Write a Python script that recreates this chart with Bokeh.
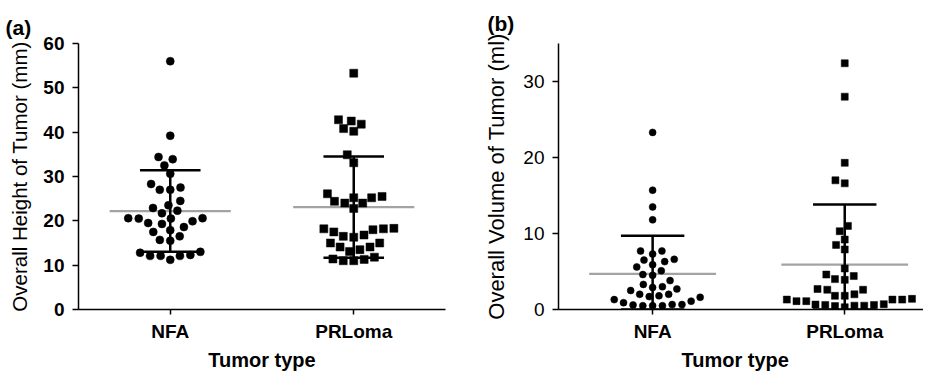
import math
from bokeh.plotting import figure
from bokeh.layouts import row
from bokeh.models import FixedTicker, Range1d, LinearAxis
from bokeh.embed import file_html
from bokeh.resources import INLINE

# ---------------- data ----------------
categories = ["NFA", "PRLoma"]
x_title = "Tumor type"

height_nfa = [56.0, 39.2, 34.4, 33.9, 32.5, 30.6, 28.3, 27.5, 27.0, 27.0, 24.5, 23.5,
              22.9, 22.3, 21.7, 20.5, 20.5, 20.6, 20.6, 19.5, 19.9, 18.6, 19.3, 17.5,
              17.9, 16.5, 15.7, 15.5, 13.0, 12.3, 12.1, 11.2, 12.1, 12.1, 12.8]
height_prl = [53.3, 42.8, 41.8, 40.2, 40.8, 42.5, 34.9, 33.1, 25.2, 24.4, 25.5, 24.0,
              26.1, 24.0, 25.2, 22.8, 18.2, 18.0, 17.5, 18.3, 18.2, 16.8, 16.3, 16.5,
              15.0, 15.0, 14.1, 14.1, 13.5, 13.1, 11.8, 11.3, 11.0, 11.0, 11.4]
height_mean = [22.2, 23.1]
height_sd = [9.2, 11.4]

volume_nfa = [23.3, 15.7, 13.5, 11.8, 7.7, 7.7, 7.3, 6.5, 6.3, 6.6, 5.9, 5.6, 5.1,
              4.6, 4.5, 3.8, 3.0, 2.7, 2.9, 3.3, 2.0, 2.0, 2.5, 1.7, 1.3, 1.6, 1.8,
              0.9, 0.65, 0.5, 0.5, 0.5, 0.6, 0.65, 1.1]
volume_prl = [32.4, 28.0, 19.3, 17.0, 16.6, 11.0, 10.3, 9.2, 8.5, 7.9, 5.4, 4.6,
              4.4, 4.0, 3.9, 2.7, 2.6, 2.6, 2.0, 1.8, 1.8, 1.4, 1.3, 1.3, 1.3, 1.1,
              1.1, 0.7, 0.65, 0.6, 0.6, 0.5, 0.5, 0.45, 0.3]
volume_mean = [4.7, 5.9]
volume_sd = [5.0, 7.9]

FONT = "Liberation Sans"


def swarm(vals, d_px, ppu_x, ppu_y):
    order = sorted(range(len(vals)), key=lambda i: vals[i])
    placed = []
    offs = [0.0] * len(vals)
    for i in order:
        y = vals[i] * ppu_y
        cands = [0.0]
        for (px, py) in placed:
            dy = abs(py - y)
            if dy < d_px:
                dx = math.sqrt(d_px ** 2 - dy ** 2)
                cands += [px + dx, px - dx]
        cands.sort(key=lambda c: (round(abs(c), 6), c))
        chosen = cands[-1]
        for c in cands:
            if all((c - px) ** 2 + (y - py) ** 2 >= d_px ** 2 - 1e-6 for px, py in placed):
                chosen = c
                break
        placed.append((chosen, y))
        offs[i] = chosen / ppu_x
    return offs


def make_panel(width, x_end, y_end, yticks, series, means, sds, msize, dcoll,
               tick_bold, tag, tag_offset, ylabel, ylabel_size, ylabel_standoff, title_x):
    fw, fh, top = series["fw"], series["fh"], series["top"]
    p = figure(width=width, height=373, output_backend="svg", toolbar_location=None,
               x_range=Range1d(x_end[0], x_end[1]), y_range=Range1d(0, y_end),
               min_border_left=78, min_border_right=width - 78 - fw,
               min_border_top=top, min_border_bottom=373 - top - fh)
    p.outline_line_color = None
    p.grid.visible = False
    p.background_fill_color = "white"
    p.border_fill_color = "white"

    p.title.text = tag
    p.title.align = "left"
    p.title.offset = tag_offset
    p.title.text_font = FONT
    p.title.text_font_style = "bold"
    p.title.text_font_size = "21px"
    p.title.text_color = "black"
    p.title.standoff = series["tstand"]

    ppu_x = fw / (x_end[1] - x_end[0])
    ppu_y = fh / y_end

    # mean lines (gray)
    p.segment(x0=[i - 0.33 for i in range(2)], x1=[i + 0.33 for i in range(2)],
              y0=means, y1=means, line_color="#a3a3a3", line_width=2.2)
    # SD whiskers
    lo = [max(m - s, 0) for m, s in zip(means, sds)]
    hi = [m + s for m, s in zip(means, sds)]
    p.segment(x0=[0, 1], x1=[0, 1], y0=lo, y1=hi, line_color="black", line_width=2.5)
    p.segment(x0=[i - 0.165 for i in range(2)], x1=[i + 0.165 for i in range(2)],
              y0=hi, y1=hi, line_color="black", line_width=2.5)
    p.segment(x0=[i - 0.165 for i in range(2)], x1=[i + 0.165 for i in range(2)],
              y0=lo, y1=lo, line_color="black", line_width=2.5)

    for k, (vals, marker) in enumerate(series["data"]):
        offs = swarm(vals, dcoll, ppu_x, ppu_y)
        p.scatter(x=[k + o for o in offs], y=vals, marker=marker, size=msize,
                  fill_color="black", line_color="black", line_width=0.5)

    # x axis with category names
    p.xaxis.ticker = FixedTicker(ticks=[0, 1])
    p.xaxis.major_label_overrides = {0: categories[0], 1: categories[1]}
    p.xaxis.minor_tick_line_color = None
    p.xaxis.major_tick_out = 5
    p.xaxis.major_tick_in = 0
    p.xaxis.axis_line_width = 1.5
    p.xaxis.major_tick_line_width = 1.5
    p.xaxis.major_label_text_font = FONT
    p.xaxis.major_label_text_font_style = "bold"
    p.xaxis.major_label_text_font_size = "19px"
    p.xaxis.major_label_text_color = "black"
    p.xaxis.major_label_standoff = 6

    # second (invisible) axis carrying the x title
    t_axis = LinearAxis(ticker=FixedTicker(ticks=[title_x]),
                        major_label_overrides={title_x: x_title},
                        axis_line_color=None, major_tick_line_color=None,
                        minor_tick_line_color=None, major_tick_in=0, major_tick_out=0,
                        major_label_standoff=4,
                        major_label_text_font=FONT, major_label_text_font_style="bold",
                        major_label_text_font_size="20px", major_label_text_color="black")
    p.add_layout(t_axis, "below")

    p.yaxis.ticker = FixedTicker(ticks=yticks)
    p.yaxis.minor_tick_line_color = None
    p.yaxis.major_tick_out = 6
    p.yaxis.major_tick_in = 0
    p.yaxis.axis_line_width = 1.5
    p.yaxis.major_tick_line_width = 1.5
    p.yaxis.major_label_text_font = FONT
    p.yaxis.major_label_text_font_style = "bold" if tick_bold else "normal"
    p.yaxis.major_label_text_font_size = "19px"
    p.yaxis.major_label_text_color = "black"
    p.yaxis.major_label_standoff = 8
    p.yaxis.axis_label = ylabel
    p.yaxis.axis_label_text_font = FONT
    p.yaxis.axis_label_text_font_style = "normal"
    p.yaxis.axis_label_text_font_size = ylabel_size
    p.yaxis.axis_label_text_color = "black"
    p.yaxis.axis_label_standoff = ylabel_standoff
    return p


pa = make_panel(480, (-0.5, 1.5), 60, [0, 10, 20, 30, 40, 50, 60],
                {"fw": 367, "fh": 275, "top": 35, "tstand": 10,
                 "data": [(height_nfa, "circle"), (height_prl, "square")]},
                height_mean, height_sd, 8, 10.5, True,
                "(a)", -73, "Overall Height of Tumor (mm)", "20.5px", 9, 0.5)

pb = make_panel(443, (-0.49, 1.41), 35, [0, 10, 20, 30],
                {"fw": 365, "fh": 268, "top": 43, "tstand": 18,
                 "data": [(volume_nfa, "circle"), (volume_prl, "square")]},
                volume_mean, volume_sd, 7, 9.8, False,
                "(b)", -71, "Overall Volume of Tumor (ml)", "22px", 11, 0.43)

layout = row(pa, pb)
open("out.html", "w").write(file_html(layout, INLINE))
